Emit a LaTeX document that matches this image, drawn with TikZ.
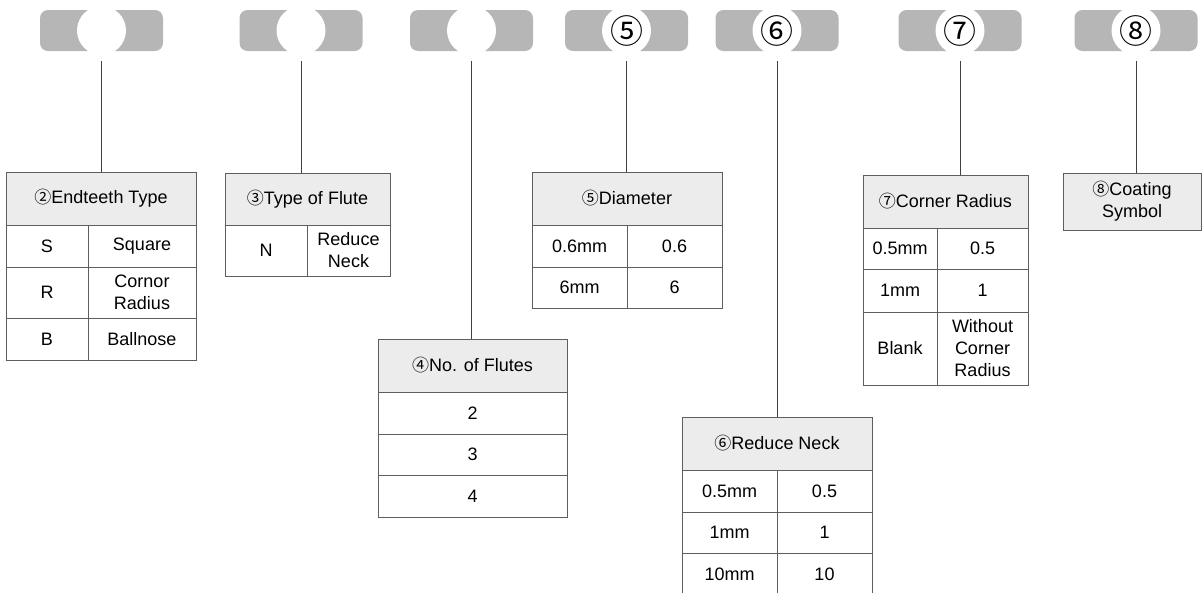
\documentclass[tikz,border=0pt]{standalone}
\usepackage{fontspec}
\setmainfont{Liberation Sans}
\newfontfamily\cf{Noto Sans CJK SC}
\usepackage{xcolor}
\usepackage{tikz}
\usetikzlibrary{positioning}
\definecolor{pillgray}{HTML}{B5B6B5}
\definecolor{hdgray}{HTML}{ECECEC}
\definecolor{tblgray}{HTML}{5E5E5E}
\definecolor{lngray}{HTML}{404040}
\newcommand{\cn}[1]{{\cf\fontsize{17}{17}\selectfont #1}}

\begin{document}
\begin{tikzpicture}[x=1pt,y=-1pt,font=\fontsize{18}{22}\selectfont]
    \tikzstyle{pill}=[fill=pillgray,rounded corners=8pt,minimum width=123pt,minimum height=41pt,inner sep=0pt]
    \tikzstyle{dot}=[circle,fill=white,minimum size=49pt,inner sep=0pt,font=\cf\fontsize{33}{33}\selectfont]
    \tikzstyle{hd}=[draw=tblgray,line width=1pt,fill=hdgray,anchor=north west,inner sep=0pt,outer sep=0pt,align=center,minimum height=53pt]
    \tikzstyle{cl}=[draw=tblgray,line width=1pt,anchor=north west,inner sep=0pt,outer sep=0pt,align=center,minimum height=42pt]
    \tikzstyle{ln}=[draw=lngray,line width=1pt]
    \clip (0,0) rectangle (1202,592);
    % top code boxes
    \node[pill] (p1) at (101.5,30.5) {};
    \node[pill] (p2) at (301,30.5)   {};
    \node[pill] (p3) at (471.5,30.5) {};
    \node[pill] (p4) at (626.5,30.5) {};
    \node[pill] (p5) at (777,30.5)   {};
    \node[pill] (p6) at (960,30.5)   {};
    \node[pill] (p7) at (1136,30.5)  {};
    \node[dot] (c1) at (p1) {};
    \node[dot] (c2) at (p2) {};
    \node[dot] (c3) at (p3) {};
    \node[dot] (c4) at (p4) {⑤};
    \node[dot] (c5) at (p5) {⑥};
    \node[dot] (c6) at (p6) {⑦};
    \node[dot] (c7) at (p7) {⑧};
    % endteeth type
    \node[hd,minimum width=190pt] (t1h) at (6,172) {\cn{②}Endteeth Type};
    \node[cl,minimum width=82pt]  (t1a) at (t1h.south west) {S};
    \node[cl,minimum width=108pt] (t1b) at (t1a.north east) {Square};
    \node[cl,minimum width=82pt,minimum height=51pt]  (t1c) at (t1a.south west) {R};
    \node[cl,minimum width=108pt,minimum height=51pt] (t1d) at (t1c.north east) {Cornor\\Radius};
    \node[cl,minimum width=82pt]  (t1e) at (t1c.south west) {B};
    \node[cl,minimum width=108pt] (t1f) at (t1e.north east) {Ballnose};
    % type of flute
    \node[hd,minimum width=165pt,minimum height=52pt] (t2h) at (225,173) {\cn{③}Type of Flute};
    \node[cl,minimum width=82pt,minimum height=51pt] (t2a) at (t2h.south west) {N};
    \node[cl,minimum width=83pt,minimum height=51pt] (t2b) at (t2a.north east) {Reduce\\Neck};
    % no. of flutes
    \node[hd,minimum width=189pt] (t4h) at (378,339) {\cn{④}No. of Flutes};
    \node[cl,minimum width=189pt] (t4a) at (t4h.south west) {2};
    \node[cl,minimum width=189pt,minimum height=41pt] (t4b) at (t4a.south west) {3};
    \node[cl,minimum width=189pt] (t4c) at (t4b.south west) {4};
    % diameter
    \node[hd,minimum width=190pt] (t5h) at (532,172) {\cn{⑤}Diameter};
    \node[cl,minimum width=95pt] (t5a) at (t5h.south west) {0.6mm};
    \node[cl,minimum width=95pt] (t5b) at (t5a.north east) {0.6};
    \node[cl,minimum width=95pt,minimum height=41pt] (t5c) at (t5a.south west) {6mm};
    \node[cl,minimum width=95pt,minimum height=41pt] (t5d) at (t5c.north east) {6};
    % reduce neck
    \node[hd,minimum width=190pt] (t6h) at (682,417) {\cn{⑥}Reduce Neck};
    \node[cl,minimum width=95pt] (t6a) at (t6h.south west) {0.5mm};
    \node[cl,minimum width=95pt] (t6b) at (t6a.north east) {0.5};
    \node[cl,minimum width=95pt,minimum height=41pt] (t6c) at (t6a.south west) {1mm};
    \node[cl,minimum width=95pt,minimum height=41pt] (t6d) at (t6c.north east) {1};
    \node[cl,minimum width=95pt] (t6e) at (t6c.south west) {10mm};
    \node[cl,minimum width=95pt] (t6f) at (t6e.north east) {10};
    % corner radius
    \node[hd,minimum width=165pt] (t7h) at (863,175) {\cn{⑦}Corner Radius};
    \node[cl,minimum width=74pt,minimum height=41pt] (t7a) at (t7h.south west) {0.5mm};
    \node[cl,minimum width=91pt,minimum height=41pt] (t7b) at (t7a.north east) {0.5};
    \node[cl,minimum width=74pt,minimum height=43pt] (t7c) at (t7a.south west) {1mm};
    \node[cl,minimum width=91pt,minimum height=43pt] (t7d) at (t7c.north east) {1};
    \node[cl,minimum width=74pt,minimum height=73pt] (t7e) at (t7c.south west) {Blank};
    \node[cl,minimum width=91pt,minimum height=73pt] (t7f) at (t7e.north east) {Without\\Corner\\Radius};
    % coating
    \node[hd,minimum width=138pt,minimum height=57pt] (t8h) at (1063,173) {\cn{⑧}Coating\\Symbol};
    \foreach \a/\b in {p1/t1h,p2/t2h,p3/t4h,p4/t5h,p5/t6h,p6/t7h,p7/t8h} \draw[ln,shorten <=10pt] (\a.south) -- (\a.south |- \b.north);
  \end{tikzpicture}
\end{document}
